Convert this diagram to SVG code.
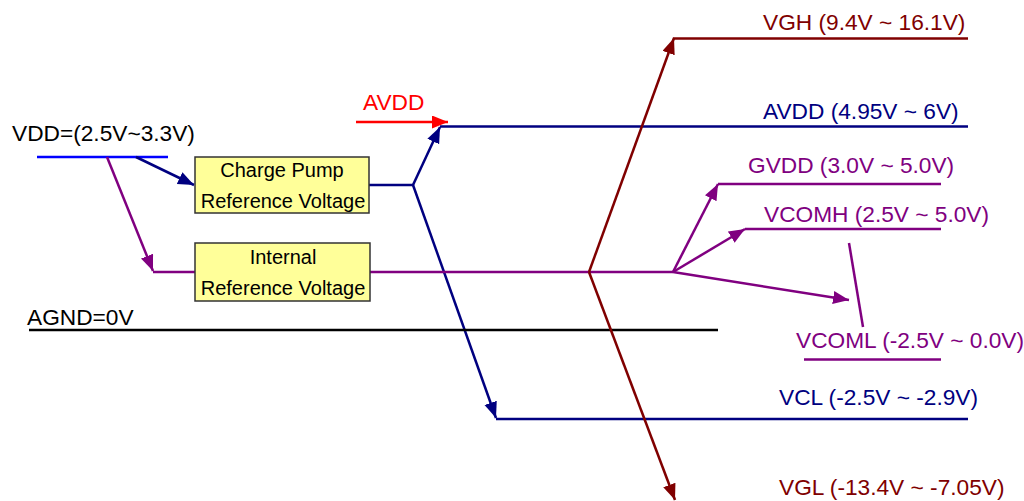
<svg xmlns="http://www.w3.org/2000/svg" width="1024" height="501" viewBox="0 0 1024 501">
<style>
text{font-family:"Liberation Sans",Arial,sans-serif;font-size:22.7px}
.box{fill:#ffff99;stroke:#333333;stroke-width:1.5}
.bt{font-size:20px;fill:#000;text-anchor:middle}
.nv{stroke:#000080;stroke-width:2.5;fill:none}
.pu{stroke:#800080;stroke-width:2.5;fill:none}
.dr{stroke:#800000;stroke-width:2.5;fill:none}
.rd{stroke:#ff0000;stroke-width:2.5;fill:none}
.bl{stroke:#0000ff;stroke-width:2.5;fill:none}
.bk{stroke:#000;stroke-width:2.5;fill:none}
</style>
<defs>
<marker id="aNv" markerUnits="userSpaceOnUse" markerWidth="18" markerHeight="14" refX="16" refY="6.5" orient="auto"><path d="M0,0 L16,6.5 L0,13 z" fill="#000080"/></marker>
<marker id="aPu" markerUnits="userSpaceOnUse" markerWidth="18" markerHeight="14" refX="16" refY="6.5" orient="auto"><path d="M0,0 L16,6.5 L0,13 z" fill="#800080"/></marker>
<marker id="aDr" markerUnits="userSpaceOnUse" markerWidth="18" markerHeight="14" refX="16" refY="6.5" orient="auto"><path d="M0,0 L16,6.5 L0,13 z" fill="#800000"/></marker>
<marker id="aRd" markerUnits="userSpaceOnUse" markerWidth="18" markerHeight="14" refX="16" refY="6.5" orient="auto"><path d="M0,0 L16,6.5 L0,13 z" fill="#ff0000"/></marker>
</defs>
<g id="connectors">
<path class="bl" d="M37,157 L168,157"/>
<path class="nv" d="M136,157 L194,185" marker-end="url(#aNv)"/>
<path class="pu" d="M107,157 L153,271" marker-end="url(#aPu)"/>
<path class="pu" d="M153,272 L195,272"/>
<path class="nv" d="M369,185 L413,185"/>
<path class="nv" d="M413,185 L440,127" marker-end="url(#aNv)"/>
<path class="nv" d="M413,185 L496,418" marker-end="url(#aNv)"/>
<path class="nv" d="M440,126.5 L968,126.5"/>
<path class="nv" d="M496,419 L968,419"/>
<path class="rd" d="M356,122 L448,122" marker-end="url(#aRd)"/>
<path class="bk" d="M29,330 L718,330"/>
<path class="pu" d="M370,272 L673,272"/>
<path class="dr" d="M589,272 L674,38" marker-end="url(#aDr)"/>
<path class="dr" d="M589,272 L675,500" marker-end="url(#aDr)"/>
<path class="dr" d="M673,38.5 L968,38.5"/>
<path class="pu" d="M673,272 L718,184" marker-end="url(#aPu)"/>
<path class="pu" d="M718,184 L941,184"/>
<path class="pu" d="M673,272 L745,229" marker-end="url(#aPu)"/>
<path class="pu" d="M745,229 L941,229"/>
<path class="pu" d="M673,272 L849,300" marker-end="url(#aPu)"/>
<path class="pu" d="M849,243 L863,327"/>
<path class="pu" d="M804,359.5 L941,359.5"/>
</g>
<g id="vdd"><text x="12" y="141">VDD=(2.5V~3.3V)</text></g>
<g id="avdd-in"><text x="363" y="110" fill="#ff0000">AVDD</text></g>
<g id="agnd"><text x="27" y="325">AGND=0V</text></g>
<g id="charge-pump">
<rect class="box" x="195" y="157" width="174" height="56"/>
<text class="bt" x="282" y="177">Charge Pump</text>
<text class="bt" x="283" y="208">Reference Voltage</text>
</g>
<g id="internal-ref">
<rect class="box" x="195" y="243" width="175" height="58"/>
<text class="bt" x="283" y="264">Internal</text>
<text class="bt" x="283" y="295">Reference Voltage</text>
</g>
<g id="vgh"><text x="763" y="30" fill="#800000">VGH (9.4V ~ 16.1V)</text></g>
<g id="avdd-out"><text x="763" y="119" fill="#000080">AVDD (4.95V ~ 6V)</text></g>
<g id="gvdd"><text x="748" y="173" fill="#800080">GVDD (3.0V ~ 5.0V)</text></g>
<g id="vcomh"><text x="764" y="222" fill="#800080">VCOMH (2.5V ~ 5.0V)</text></g>
<g id="vcoml"><text x="796" y="348" fill="#800080">VCOML (-2.5V ~ 0.0V)</text></g>
<g id="vcl"><text x="779" y="405" fill="#000080">VCL (-2.5V ~ -2.9V)</text></g>
<g id="vgl"><text x="779" y="495" fill="#800000">VGL (-13.4V ~ -7.05V)</text></g>
</svg>
